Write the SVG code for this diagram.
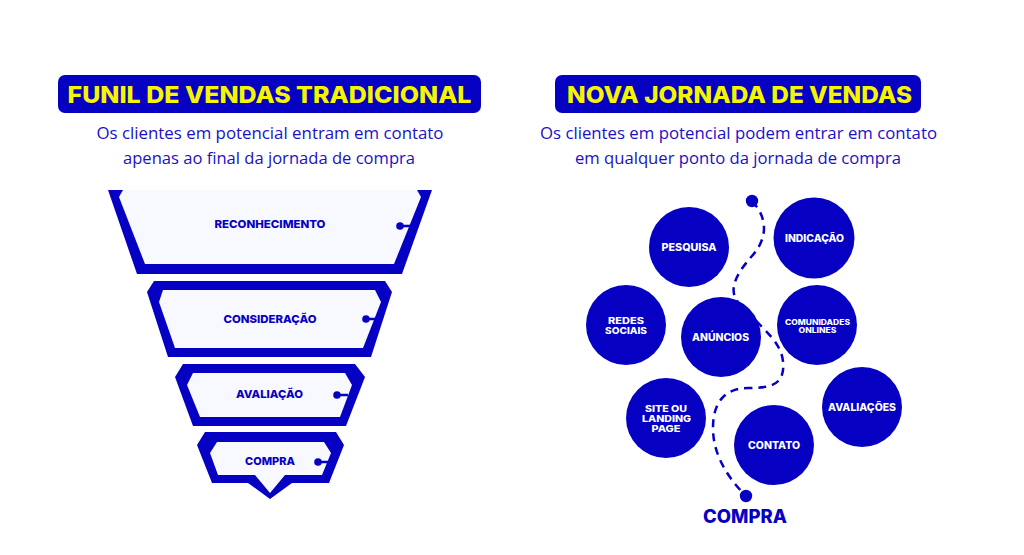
<svg xmlns="http://www.w3.org/2000/svg" width="1024" height="555" viewBox="0 0 1024 555">
<style>
.bg{fill:#ffffff}
.blue{fill:#0600C3}
.inner{fill:#F8F8FF}
.title{font-family:Inter,"Liberation Sans",sans-serif;font-weight:800;font-size:23px;fill:#F5F500}
.sub{font-family:"Open Sans","Liberation Sans",sans-serif;font-size:17px;fill:#1A10C8}
.flabel{font-family:Inter,"Liberation Sans",sans-serif;font-weight:800;font-size:11px;fill:#0600C3}
.clabel{font-family:Inter,"Liberation Sans",sans-serif;font-weight:800;font-size:10px;fill:#ffffff}
.small{font-size:9px}
.tiny{font-size:7.5px}
.dot{fill:#0600C3}
.link{stroke:#0600C3;stroke-width:2.5;fill:none}
.dash{stroke:#0600C3;stroke-width:2.5;fill:none;stroke-dasharray:8 6}
</style>
<rect class="bg" x="0" y="0" width="1024" height="555"/>

<g id="header-left">
<rect class="blue" x="58" y="75" width="423" height="38" rx="7"/>
<text class="title" x="269.5" y="103" text-anchor="middle" textLength="404" lengthAdjust="spacingAndGlyphs">FUNIL DE VENDAS TRADICIONAL</text>
<text class="sub" x="270" y="139" text-anchor="middle" textLength="347" lengthAdjust="spacingAndGlyphs">Os clientes em potencial entram em contato</text>
<text class="sub" x="269" y="164" text-anchor="middle" textLength="292" lengthAdjust="spacingAndGlyphs">apenas ao final da jornada de compra</text>
</g>

<g id="header-right">
<rect class="blue" x="555" y="75" width="366" height="38" rx="7"/>
<text class="title" x="739.5" y="103" text-anchor="middle" textLength="345" lengthAdjust="spacingAndGlyphs">NOVA JORNADA DE VENDAS</text>
<text class="sub" x="738.5" y="139" text-anchor="middle" textLength="397" lengthAdjust="spacingAndGlyphs">Os clientes em potencial podem entrar em contato</text>
<text class="sub" x="738" y="164" text-anchor="middle" textLength="326" lengthAdjust="spacingAndGlyphs">em qualquer ponto da jornada de compra</text>
</g>

<g id="funnel-reconhecimento">
<polygon class="blue" points="108,190 432,190 402,274 137,274"/>
<polygon class="inner" points="123,190 417,190 421,197 394,264 145,264 119,197"/>
<text class="flabel" x="270" y="228" text-anchor="middle" textLength="111" lengthAdjust="spacingAndGlyphs">RECONHECIMENTO</text>
<line class="link" x1="400" y1="226" x2="412" y2="226"/>
<circle class="dot" cx="400" cy="226" r="3.8"/>
</g>

<g id="funnel-consideracao">
<polygon class="blue" points="154,281 385,281 392,292 371,357 168,357 147,292"/>
<polygon class="inner" points="163,290 375,290 381,302 363,348 175,348 159,302"/>
<text class="flabel" x="270" y="323" text-anchor="middle" textLength="93" lengthAdjust="spacingAndGlyphs">CONSIDERAÇÃO</text>
<line class="link" x1="366" y1="319" x2="377" y2="319"/>
<circle class="dot" cx="366" cy="319" r="3.8"/>
</g>

<g id="funnel-avaliacao">
<polygon class="blue" points="183,364 355,364 365,377 346,426 193,426 175,377"/>
<polygon class="inner" points="193,373 345,373 352,385 340,417 200,417 187,385"/>
<text class="flabel" x="269.5" y="398" text-anchor="middle" textLength="67" lengthAdjust="spacingAndGlyphs">AVALIAÇÃO</text>
<line class="link" x1="337" y1="395" x2="348" y2="395"/>
<circle class="dot" cx="337" cy="395" r="3.8"/>
</g>

<g id="funnel-compra">
<polygon class="blue" points="205,432 336,432 344,445 329,483 292,483 270,499 248,483 212,483 197,445"/>
<polygon class="inner" points="217,442 324,442 331,453 322,475 285,475 270,493 255,475 218,475 210,453"/>
<text class="flabel" x="270" y="465" text-anchor="middle" textLength="50" lengthAdjust="spacingAndGlyphs">COMPRA</text>
<line class="link" x1="318" y1="462" x2="329" y2="462"/>
<circle class="dot" cx="318" cy="462" r="3.8"/>
</g>

<g id="connectors">
<path class="dash" d="M752,201 C768,218 768,238 752,256 C736,274 728,290 738,302 L763,328 C775,340 785,352 783,370 C781,386 768,388 748,388 C725,388 713,402 713,428 C713,455 728,478 746,496"/>
</g>

<g id="start-dot"><circle class="dot" cx="752" cy="201" r="6.2"/></g>
<g id="end-dot"><circle class="dot" cx="746" cy="496" r="6.2"/></g>

<g id="node-pesquisa">
<circle class="blue" cx="689" cy="247" r="40"/>
<text class="clabel" x="689" y="250.5" text-anchor="middle" textLength="55" lengthAdjust="spacingAndGlyphs">PESQUISA</text>
</g>
<g id="node-indicacao">
<circle class="blue" cx="814" cy="238" r="40.5"/>
<text class="clabel" x="814.5" y="241.5" text-anchor="middle" textLength="59" lengthAdjust="spacingAndGlyphs">INDICAÇÃO</text>
</g>
<g id="node-redes">
<circle class="blue" cx="626" cy="325" r="40"/>
<text class="clabel small" x="626" y="324" text-anchor="middle" textLength="36" lengthAdjust="spacingAndGlyphs">REDES</text>
<text class="clabel small" x="626" y="334" text-anchor="middle" textLength="42" lengthAdjust="spacingAndGlyphs">SOCIAIS</text>
</g>
<g id="node-anuncios">
<circle class="blue" cx="721" cy="337" r="40"/>
<text class="clabel" x="720.5" y="340.5" text-anchor="middle" textLength="57" lengthAdjust="spacingAndGlyphs">ANÚNCIOS</text>
</g>
<g id="node-comunidades">
<circle class="blue" cx="817" cy="325" r="40"/>
<text class="clabel tiny" x="817.5" y="324.5" text-anchor="middle" textLength="65" lengthAdjust="spacingAndGlyphs">COMUNIDADES</text>
<text class="clabel tiny" x="817.5" y="332.5" text-anchor="middle" textLength="38" lengthAdjust="spacingAndGlyphs">ONLINES</text>
</g>
<g id="node-site">
<circle class="blue" cx="666" cy="418" r="40"/>
<text class="clabel small" x="666" y="412" text-anchor="middle" textLength="42" lengthAdjust="spacingAndGlyphs">SITE OU</text>
<text class="clabel small" x="666.5" y="422" text-anchor="middle" textLength="49" lengthAdjust="spacingAndGlyphs">LANDING</text>
<text class="clabel small" x="666" y="432" text-anchor="middle" textLength="29" lengthAdjust="spacingAndGlyphs">PAGE</text>
</g>
<g id="node-avaliacoes">
<circle class="blue" cx="862" cy="407" r="40"/>
<text class="clabel" x="862" y="410.5" text-anchor="middle" textLength="68" lengthAdjust="spacingAndGlyphs">AVALIAÇÕES</text>
</g>
<g id="node-contato">
<circle class="blue" cx="774" cy="445" r="40"/>
<text class="clabel" x="774" y="448.5" text-anchor="middle" textLength="52" lengthAdjust="spacingAndGlyphs">CONTATO</text>
</g>

<g id="label-compra">
<text x="745" y="523" text-anchor="middle" font-family="Inter, 'Liberation Sans', sans-serif" font-weight="800" font-size="18.5" fill="#0600C3" textLength="84" lengthAdjust="spacingAndGlyphs">COMPRA</text>
</g>
</svg>
